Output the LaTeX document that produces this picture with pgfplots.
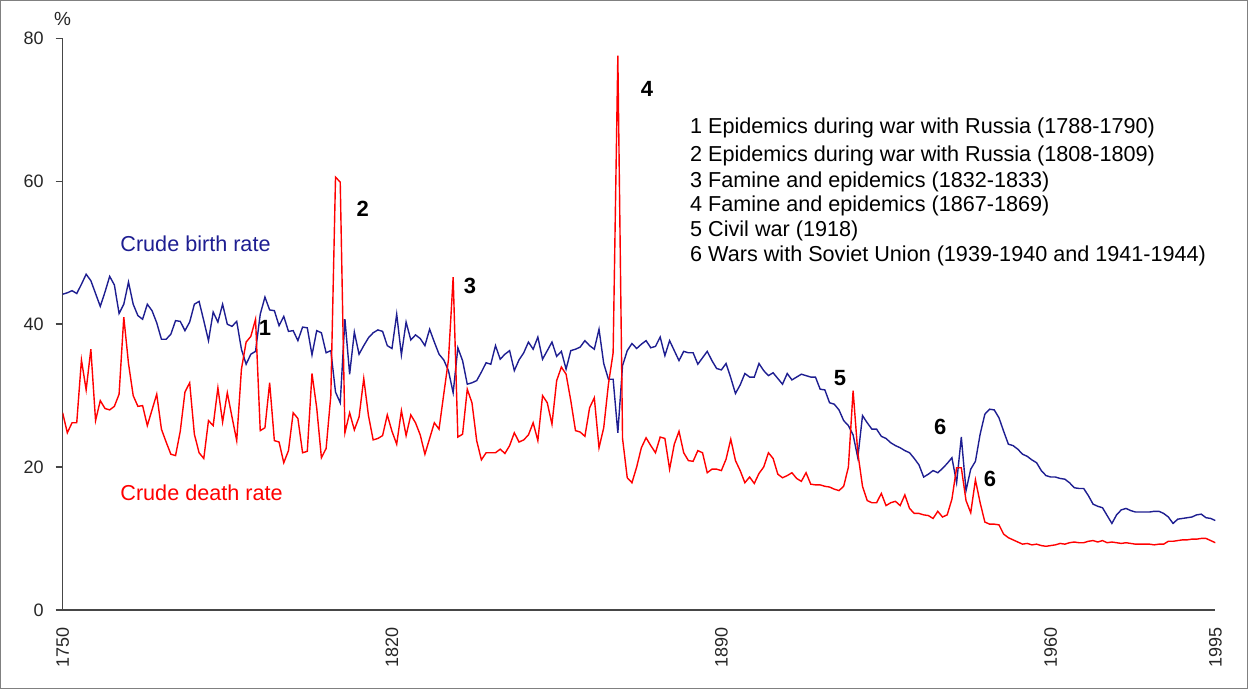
\documentclass[border=0pt]{standalone}
\usepackage{fontspec}
\setmainfont{Liberation Sans}
\usepackage{pgfplots}
\usepackage{pgfplotstable}
\pgfplotsset{compat=1.18}
\definecolor{birthblue}{RGB}{30,30,145}
\definecolor{axisgray}{RGB}{70,70,70}

\pgfplotstableread{
year birth death
1750 44.2 27.6
1751 44.4 24.8
1752 44.7 26.2
1753 44.3 26.2
1754 45.6 35.0
1755 47.0 30.8
1756 46.1 36.5
1757 44.3 26.5
1758 42.5 29.3
1759 44.5 28.2
1760 46.7 28.0
1761 45.5 28.5
1762 41.5 30.2
1763 42.8 41.0
1764 45.9 34.5
1765 42.8 30.0
1766 41.2 28.5
1767 40.7 28.6
1768 42.8 25.8
1769 41.9 28.0
1770 40.2 30.2
1771 37.9 25.3
1772 37.9 23.5
1773 38.6 21.8
1774 40.5 21.6
1775 40.4 25.0
1776 39.1 30.5
1777 40.3 31.8
1778 42.8 24.6
1779 43.2 22.0
1780 40.5 21.2
1781 37.7 26.5
1782 41.7 25.8
1783 40.3 31.1
1784 42.8 26.3
1785 40.0 30.4
1786 39.7 27.0
1787 40.4 23.7
1788 36.5 33.7
1789 34.4 37.5
1790 35.8 38.3
1791 36.2 40.7
1792 41.4 25.1
1793 43.8 25.5
1794 42.0 31.8
1795 41.9 23.7
1796 39.8 23.5
1797 41.1 20.6
1798 39.0 22.3
1799 39.1 27.6
1800 37.7 26.8
1801 39.6 22.0
1802 39.5 22.2
1803 35.7 33.1
1804 39.1 28.3
1805 38.8 21.3
1806 36.0 22.6
1807 36.3 30.0
1808 30.5 60.6
1809 29.0 59.9
1810 40.7 24.8
1811 33.0 27.6
1812 38.9 25.2
1813 35.8 27.0
1814 37.0 32.4
1815 38.1 27.2
1816 38.8 23.8
1817 39.2 24.0
1818 39.0 24.4
1819 37.0 27.3
1820 36.6 25.0
1821 41.4 23.2
1822 35.7 27.9
1823 40.3 24.4
1824 37.8 27.3
1825 38.5 26.2
1826 38.0 24.5
1827 37.0 21.8
1828 39.3 24.0
1829 37.5 26.2
1830 35.8 25.3
1831 35.0 30.2
1832 33.5 35.0
1833 30.4 46.6
1834 36.7 24.2
1835 34.9 24.6
1836 31.6 30.9
1837 31.8 29.0
1838 32.1 23.7
1839 33.3 21.0
1840 34.6 22.0
1841 34.4 22.0
1842 37.0 22.0
1843 35.1 22.5
1844 35.8 21.9
1845 36.3 23.0
1846 33.5 24.8
1847 35.0 23.5
1848 36.0 23.8
1849 37.5 24.5
1850 36.5 26.2
1851 38.2 23.7
1852 35.1 30.0
1853 36.3 29.0
1854 37.5 26.0
1855 35.5 32.1
1856 36.2 34.0
1857 33.7 33.0
1858 36.3 29.3
1859 36.5 25.1
1860 36.8 24.9
1861 37.7 24.3
1862 37.0 28.3
1863 36.5 29.7
1864 39.3 22.7
1865 34.5 25.5
1866 32.3 31.6
1867 32.3 36.0
1868 24.8 77.6
1869 34.2 24.0
1870 36.3 18.5
1871 37.3 17.8
1872 36.6 20.0
1873 37.2 22.7
1874 37.7 24.1
1875 36.7 23.0
1876 36.9 22.0
1877 38.2 24.2
1878 35.6 24.0
1879 37.7 19.7
1880 36.3 23.2
1881 34.9 25.0
1882 36.2 22.0
1883 36.0 20.9
1884 36.0 20.8
1885 34.4 22.3
1886 35.3 22.0
1887 36.2 19.2
1888 34.9 19.7
1889 33.8 19.7
1890 33.6 19.5
1891 34.5 21.1
1892 32.5 23.9
1893 30.3 20.9
1894 31.5 19.5
1895 33.1 17.8
1896 32.6 18.6
1897 32.6 17.7
1898 34.5 19.1
1899 33.5 20.0
1900 32.8 22.0
1901 33.2 21.2
1902 32.4 19.0
1903 31.6 18.5
1904 33.1 18.8
1905 32.2 19.2
1906 32.6 18.4
1907 33.0 18.0
1908 32.8 19.2
1909 32.6 17.6
1910 32.6 17.5
1911 30.9 17.5
1912 30.8 17.3
1913 29.0 17.2
1914 28.8 16.9
1915 28.0 16.7
1916 26.5 17.3
1917 25.8 20.0
1918 24.5 30.7
1919 21.3 22.0
1920 27.2 17.3
1921 26.2 15.3
1922 25.3 15.0
1923 25.3 15.0
1924 24.3 16.3
1925 24.0 14.6
1926 23.4 15.0
1927 23.0 15.2
1928 22.7 14.6
1929 22.3 16.1
1930 22.0 14.2
1931 21.2 13.5
1932 20.3 13.5
1933 18.6 13.3
1934 19.0 13.2
1935 19.5 12.8
1936 19.2 13.8
1937 19.8 13.0
1938 20.5 13.3
1939 21.3 15.5
1940 17.8 19.9
1941 24.2 19.9
1942 16.7 15.3
1943 19.7 13.6
1944 20.8 18.2
1945 24.6 15.0
1946 27.4 12.3
1947 28.1 12.0
1948 28.0 12.0
1949 26.9 11.9
1950 25.0 10.6
1951 23.2 10.1
1952 23.0 9.8
1953 22.5 9.5
1954 21.8 9.2
1955 21.5 9.3
1956 21.0 9.1
1957 20.6 9.2
1958 19.5 9.0
1959 18.8 8.9
1960 18.6 9.0
1961 18.6 9.1
1962 18.4 9.3
1963 18.3 9.2
1964 17.8 9.4
1965 17.1 9.5
1966 17.0 9.4
1967 17.0 9.4
1968 16.0 9.6
1969 14.8 9.7
1970 14.5 9.5
1971 14.3 9.7
1972 13.2 9.4
1973 12.1 9.5
1974 13.3 9.4
1975 14.0 9.3
1976 14.2 9.4
1977 13.9 9.3
1978 13.7 9.2
1979 13.7 9.2
1980 13.7 9.2
1981 13.7 9.2
1982 13.8 9.1
1983 13.8 9.2
1984 13.5 9.2
1985 13.0 9.6
1986 12.1 9.6
1987 12.7 9.7
1988 12.8 9.8
1989 12.9 9.8
1990 13.0 9.9
1991 13.3 9.9
1992 13.4 10.0
1993 12.9 10.0
1994 12.8 9.7
1995 12.5 9.4
}\data

\begin{document}
\begin{tikzpicture}
\begin{axis}[
  scale only axis, width=576.15pt, height=285.5pt,
  xmin=1750, xmax=1995, ymin=0, ymax=80,
  axis lines=left,
  axis line style={-, axisgray, line width=0.8pt},
  xtick={1750,1820,1890,1960,1995},
  ytick={0,20,40,60,80},
  x tick style={draw=none},
  y tick style={axisgray, line width=0.8pt},
  tick align=outside, major tick length=3.5pt,
  /pgf/number format/assume math mode=true,
  /pgf/number format/1000 sep={},
  xticklabel style={yshift=-1.7pt, rotate=90, anchor=east, font=\fontsize{9}{10}\selectfont, text=black!85},
  yticklabel style={xshift=-2.5pt, font=\fontsize{9}{10}\selectfont, text=black!85},
]
\addplot[birthblue, line width=0.7pt] table[x=year, y=birth]{\data};
\addplot[red, line width=0.7pt] table[x=year, y=death]{\data};

\node[anchor=west, text=birthblue, font=\fontsize{10.8}{12}\selectfont, inner sep=0pt] at (axis cs:1762.2,51.3) {Crude birth rate};
\node[anchor=west, text=red, font=\fontsize{10.8}{12}\selectfont, inner sep=0pt] at (axis cs:1762.2,16.4) {Crude death rate};

\node[font=\bfseries\fontsize{11}{13}\selectfont, inner sep=0pt] at (axis cs:1793.0,39.5) {1};
\node[font=\bfseries\fontsize{11}{13}\selectfont, inner sep=0pt] at (axis cs:1813.8,56.2) {2};
\node[font=\bfseries\fontsize{11}{13}\selectfont, inner sep=0pt] at (axis cs:1836.6,45.4) {3};
\node[font=\bfseries\fontsize{11}{13}\selectfont, inner sep=0pt] at (axis cs:1874.2,73.0) {4};
\node[font=\bfseries\fontsize{11}{13}\selectfont, inner sep=0pt] at (axis cs:1915.2,32.4) {5};
\node[font=\bfseries\fontsize{11}{13}\selectfont, inner sep=0pt] at (axis cs:1936.5,25.6) {6};
\node[font=\bfseries\fontsize{11}{13}\selectfont, inner sep=0pt] at (axis cs:1947.1,18.4) {6};

\node[anchor=west, font=\fontsize{10.8}{12}\selectfont, inner sep=0pt] at (axis cs:1883.3,67.5) {1 Epidemics during war with Russia (1788-1790)};
\node[anchor=west, font=\fontsize{10.8}{12}\selectfont, inner sep=0pt] at (axis cs:1883.3,63.6) {2 Epidemics during war with Russia (1808-1809)};
\node[anchor=west, font=\fontsize{10.8}{12}\selectfont, inner sep=0pt] at (axis cs:1883.3,60.0) {3 Famine and epidemics (1832-1833)};
\node[anchor=west, font=\fontsize{10.8}{12}\selectfont, inner sep=0pt] at (axis cs:1883.3,56.5) {4 Famine and epidemics (1867-1869)};
\node[anchor=west, font=\fontsize{10.8}{12}\selectfont, inner sep=0pt] at (axis cs:1883.3,53.0) {5 Civil war (1918)};
\node[anchor=west, font=\fontsize{10.8}{12}\selectfont, inner sep=0pt] at (axis cs:1883.3,49.5) {6 Wars with Soviet Union (1939-1940 and 1941-1944)};
\end{axis}
\node[font=\fontsize{9.5}{10}\selectfont, text=black!85] at ([yshift=10pt]current axis.north west) {\%};
\draw[gray, line width=0.6pt] ([shift={(-31pt,-39.5pt)}]current axis.south west) rectangle ([shift={(16pt,19pt)}]current axis.north east);
\end{tikzpicture}
\end{document}
